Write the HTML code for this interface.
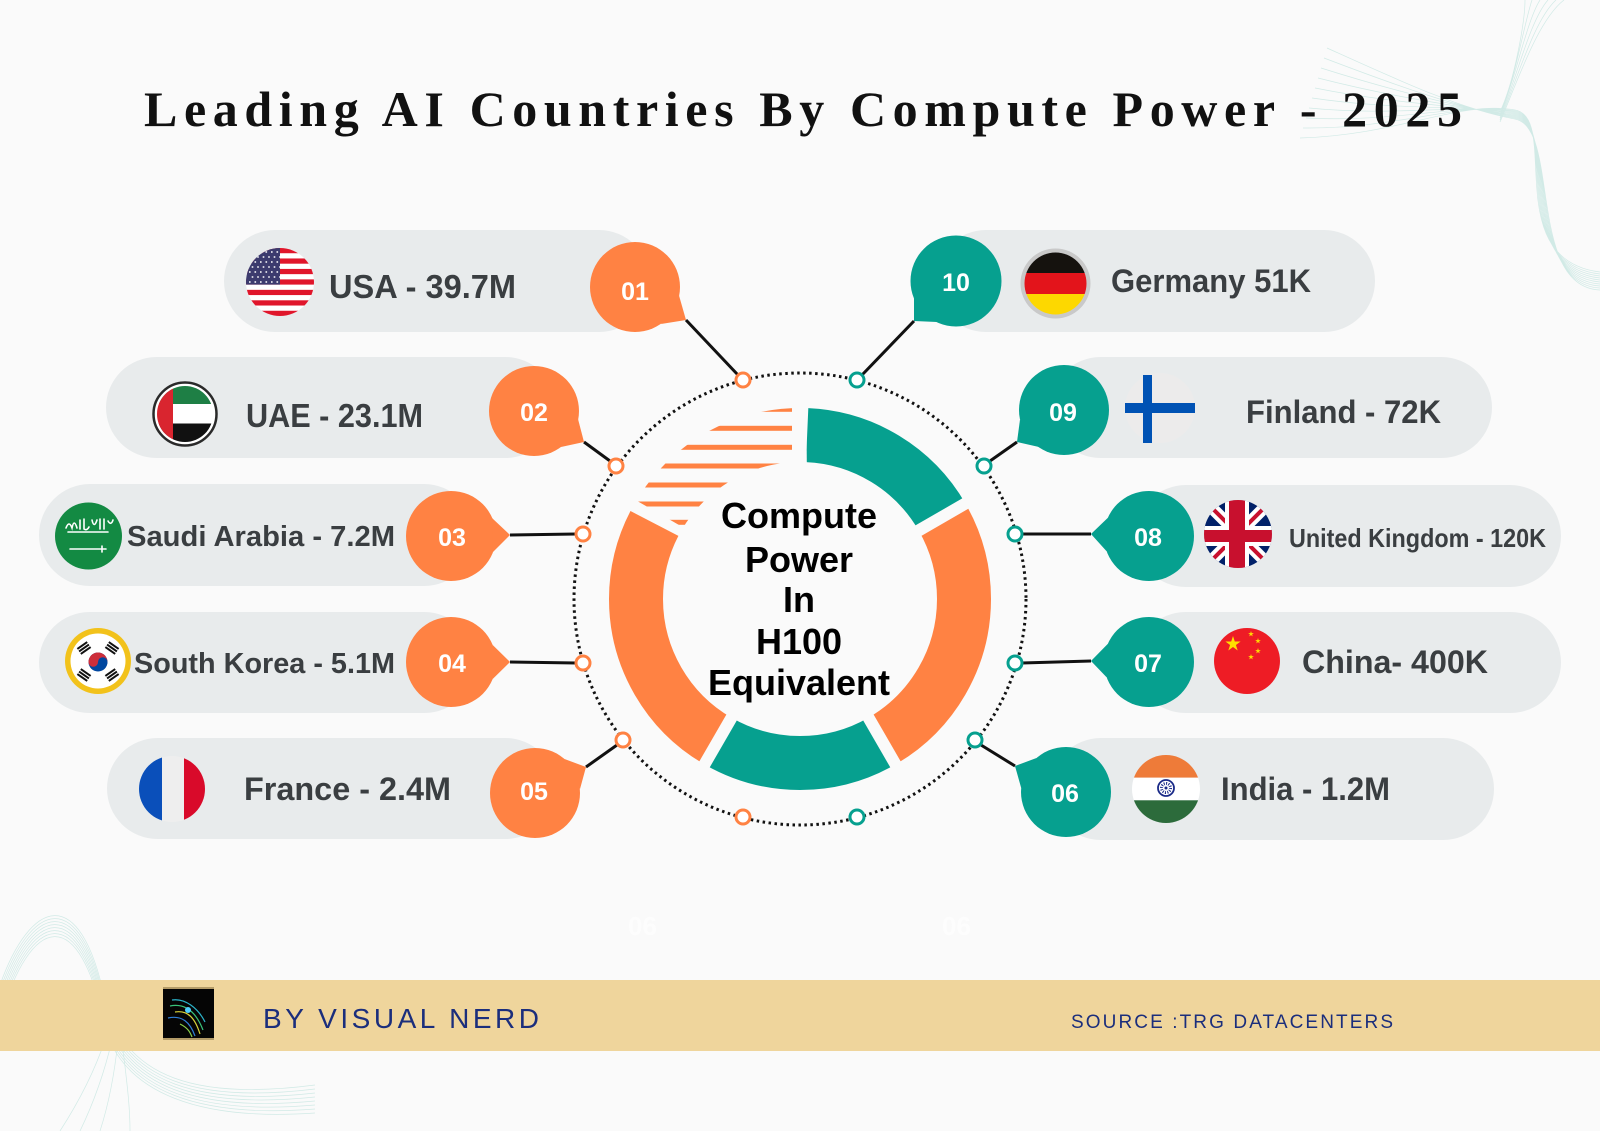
<!DOCTYPE html>
<html>
<head>
<meta charset="utf-8">
<style>
html,body{margin:0;padding:0;background:#fafafa;}
svg{display:block;}
text{font-family:"Liberation Sans",Arial,sans-serif;}
</style>
</head>
<body>
<svg width="1600" height="1131" viewBox="0 0 1600 1131" xmlns="http://www.w3.org/2000/svg">
<defs>
  <clipPath id="cUSA"><circle cx="280" cy="282" r="34"/></clipPath>
  <clipPath id="cUAE"><circle cx="185" cy="414" r="28"/></clipPath>
  <clipPath id="cFR"><circle cx="172" cy="789" r="33"/></clipPath>
  <clipPath id="cDE"><circle cx="1055.5" cy="283.5" r="31"/></clipPath>
  <clipPath id="cUK"><circle cx="1238" cy="534" r="34"/></clipPath>
  <clipPath id="cIN"><circle cx="1166" cy="789" r="34"/></clipPath>
  <clipPath id="cAnn"><path clip-rule="evenodd" fill-rule="evenodd" d="M609,599 A191,191 0 1,1 991,599 A191,191 0 1,1 609,599 Z M663,599 A137,137 0 1,0 937,599 A137,137 0 1,0 663,599 Z"/></clipPath>
  <clipPath id="cStripe"><polygon points="560,370 792,370 792,590 560,456.6"/></clipPath>
  <path id="star" d="M0,-1 L0.2245,-0.309 L0.951,-0.309 L0.363,0.118 L0.588,0.809 L0,0.382 L-0.588,0.809 L-0.363,0.118 L-0.951,-0.309 L-0.2245,-0.309Z"/>
</defs>

<rect width="1600" height="1131" fill="#fafafa"/>

<!-- decorative waves -->
<g fill="none" stroke="#9fd8cf" stroke-width="0.7" opacity="0.45">
  <path d="M1300,138 C1400,135 1460,100 1515,110 C1560,118 1500,260 1600,272
           M1303,128 C1400,129 1460,101 1515,111 C1560,119 1503,263 1600,274
           M1306,118 C1400,123 1460,102 1515,112 C1560,120 1506,266 1600,276
           M1309,108 C1400,117 1460,103 1515,113 C1560,121 1509,269 1600,278
           M1312,98 C1400,111 1460,104 1515,114 C1560,122 1512,272 1600,280
           M1315,88 C1400,105 1460,105 1515,115 C1560,123 1515,275 1600,282
           M1318,78 C1400,99 1460,106 1515,116 C1560,124 1518,278 1600,284
           M1321,68 C1400,93 1460,107 1515,117 C1560,125 1521,281 1600,286
           M1324,58 C1400,87 1460,108 1515,118 C1560,126 1524,284 1600,288
           M1327,48 C1400,81 1460,109 1515,119 C1560,127 1527,287 1600,290
           M1500,112 C1515,80 1525,20 1525,0
           M1500,114 C1515,80 1525,20 1532,0
           M1500,116 C1515,80 1527,20 1540,0
           M1500,118 C1516,80 1530,20 1548,0
           M1500,120 C1517,80 1534,20 1556,0
           M1500,122 C1518,80 1538,20 1564,0"/>
  <path d="M0,985 C30,900 80,880 105,1000 C125,1080 200,1100 315,1085
           M0,990 C30,902 80,883 105,1004 C125,1082 200,1103 315,1089
           M0,995 C30,904 80,886 105,1008 C125,1084 200,1106 315,1093
           M0,1000 C30,906 80,889 105,1012 C125,1086 200,1109 315,1097
           M0,1005 C30,908 80,892 105,1016 C125,1088 200,1112 315,1101
           M0,1010 C30,910 80,895 105,1020 C125,1090 200,1115 315,1105
           M0,1015 C30,912 80,898 105,1024 C125,1092 200,1118 315,1109
           M0,1020 C30,914 80,901 105,1028 C125,1094 200,1121 315,1113
           M60,1131 C80,1100 95,1070 105,1040
           M80,1131 C95,1100 105,1070 112,1040
           M100,1131 C110,1100 115,1070 118,1040
           M130,1131 C130,1100 125,1070 122,1040"/>
</g>

<!-- Title -->
<text x="144" y="126" font-weight="bold" font-size="50" fill="#111" textLength="1318" lengthAdjust="spacing" style="font-family:'Liberation Serif',serif">Leading AI Countries By Compute Power - 2025</text>

<!-- Pills -->
<g fill="#e8ebec">
  <rect x="224" y="230" width="426" height="102" rx="51"/>
  <rect x="106" y="357" width="450" height="101" rx="50.5"/>
  <rect x="39" y="484" width="436" height="102" rx="51"/>
  <rect x="39" y="612" width="436" height="101" rx="50.5"/>
  <rect x="107" y="738" width="449" height="101" rx="50.5"/>
  <rect x="935" y="230" width="440" height="102" rx="51"/>
  <rect x="1050" y="357" width="442" height="101" rx="50.5"/>
  <rect x="1135" y="485" width="426" height="102" rx="51"/>
  <rect x="1135" y="612" width="426" height="101" rx="50.5"/>
  <rect x="1050" y="738" width="444" height="102" rx="51"/>
</g>

<!-- Dotted ring -->
<circle cx="800" cy="599" r="226" fill="none" stroke="#111" stroke-width="3" stroke-dasharray="2.5 3.5"/>

<!-- Connector lines -->
<g stroke="#111" stroke-width="3" fill="none">
  <line x1="686" y1="320" x2="738" y2="375"/>
  <line x1="584" y1="442" x2="610" y2="461"/>
  <line x1="510" y1="535" x2="576" y2="534"/>
  <line x1="510" y1="662" x2="576" y2="663"/>
  <line x1="586" y1="767" x2="617" y2="745"/>
  <line x1="914" y1="321" x2="862" y2="375"/>
  <line x1="1017" y1="442" x2="990" y2="461"/>
  <line x1="1091" y1="534" x2="1022" y2="534"/>
  <line x1="1091" y1="661" x2="1022" y2="663"/>
  <line x1="1015" y1="766" x2="981" y2="745"/>
</g>

<!-- Ring small circles -->
<g fill="#fff" stroke-width="3">
  <g stroke="#ff8243">
    <circle cx="743" cy="380" r="7"/>
    <circle cx="616" cy="466" r="7"/>
    <circle cx="583" cy="534" r="7"/>
    <circle cx="583" cy="663" r="7"/>
    <circle cx="623" cy="740" r="7"/>
    <circle cx="743" cy="817" r="7"/>
  </g>
  <g stroke="#06a08f">
    <circle cx="857" cy="380" r="7"/>
    <circle cx="984" cy="466" r="7"/>
    <circle cx="1015" cy="534" r="7"/>
    <circle cx="1015" cy="663" r="7"/>
    <circle cx="975" cy="740" r="7"/>
    <circle cx="857" cy="817" r="7"/>
  </g>
</g>

<!-- Donut segments -->
<g transform="rotate(-90 800 599)" fill="none" stroke-width="54">
  <circle cx="800" cy="599" r="164" stroke="#06a08f" stroke-dasharray="164.6 865.84" stroke-dashoffset="-7.2"/>
  <circle cx="800" cy="599" r="164" stroke="#ff8243" stroke-dasharray="257.6 772.84" stroke-dashoffset="-171.7"/>
  <circle cx="800" cy="599" r="164" stroke="#06a08f" stroke-dasharray="171.7 858.74" stroke-dashoffset="-429.3"/>
  <circle cx="800" cy="599" r="164" stroke="#ff8243" stroke-dasharray="250 780.44" stroke-dashoffset="-601"/>
</g>
<g fill="#fafafa">
  <rect x="-6" y="-200" width="12" height="70" transform="translate(800,599) rotate(60)"/>
  <rect x="-6" y="-200" width="12" height="70" transform="translate(800,599) rotate(150)"/>
  <rect x="-6" y="-200" width="12" height="70" transform="translate(800,599) rotate(210)"/>
  <rect x="-2" y="-200" width="10" height="70" transform="translate(800,599) rotate(-0.5)"/>
</g>
<!-- Striped segment -->
<g clip-path="url(#cAnn)">
  <g clip-path="url(#cStripe)" fill="#ff8243">
    <rect x="600" y="406.8" width="200" height="5"/>
    <rect x="600" y="425.8" width="200" height="5"/>
    <rect x="600" y="444.8" width="200" height="5"/>
    <rect x="600" y="463.5" width="200" height="5"/>
    <rect x="600" y="482.5" width="200" height="5"/>
    <rect x="600" y="501.5" width="200" height="5"/>
    <rect x="600" y="519.8" width="200" height="5"/>
  </g>
</g>

<!-- Center text -->
<g font-weight="bold" font-size="36" fill="#000" text-anchor="middle">
  <text x="799" y="528">Compute</text>
  <text x="799" y="572">Power</text>
  <text x="799" y="612">In</text>
  <text x="799" y="654">H100</text>
  <text x="799" y="695">Equivalent</text>
</g>

<!-- Bubbles -->
<g fill="#ff8243">
  <circle cx="635" cy="287" r="45"/><polygon points="679,295.5 686,320 661,324"/>
  <circle cx="534" cy="411" r="45"/><polygon points="578,419 584,442 561,447"/>
  <circle cx="451" cy="536" r="45"/><polygon points="492,518 510,535 493,552"/>
  <circle cx="451" cy="662" r="45"/><polygon points="492.7,645 510,662 492.7,679"/>
  <circle cx="535" cy="793" r="45"/><polygon points="564.5,759 586,767 580,789"/>
</g>
<g fill="#06a08f">
  <circle cx="956" cy="281" r="45.5"/><polygon points="937,322 914,321 914,298"/>
  <circle cx="1064" cy="410" r="45"/><polygon points="1039,447 1017,442 1020,419.6"/>
  <circle cx="1149" cy="536" r="45"/><polygon points="1106.7,551.4 1091,534 1107.9,517.7"/>
  <circle cx="1149" cy="662" r="45"/><polygon points="1106.7,677.4 1091,661 1107.9,643.7"/>
  <circle cx="1066" cy="792" r="45"/><polygon points="1021.2,788 1015,766 1036.5,758"/>
</g>
<g fill="#fff" font-weight="bold" font-size="25" text-anchor="middle">
  <text x="635" y="300">01</text>
  <text x="534" y="421">02</text>
  <text x="452" y="546">03</text>
  <text x="452" y="672">04</text>
  <text x="534" y="800">05</text>
  <text x="956" y="291">10</text>
  <text x="1063" y="421">09</text>
  <text x="1148" y="546">08</text>
  <text x="1148" y="672">07</text>
  <text x="1065" y="802">06</text>
</g>

<!-- Pill texts -->
<g font-weight="bold" fill="#3a3e41">
  <text x="329" y="298" font-size="33" textLength="187" lengthAdjust="spacingAndGlyphs">USA - 39.7M</text>
  <text x="246" y="427" font-size="33" textLength="177" lengthAdjust="spacingAndGlyphs">UAE - 23.1M</text>
  <text x="127" y="546" font-size="29" textLength="268" lengthAdjust="spacingAndGlyphs">Saudi Arabia - 7.2M</text>
  <text x="134" y="673" font-size="29" textLength="261" lengthAdjust="spacingAndGlyphs">South Korea - 5.1M</text>
  <text x="244" y="800" font-size="32" textLength="207" lengthAdjust="spacingAndGlyphs">France - 2.4M</text>
  <text x="1111" y="292" font-size="32" textLength="200" lengthAdjust="spacingAndGlyphs">Germany 51K</text>
  <text x="1246" y="423" font-size="32" textLength="195" lengthAdjust="spacingAndGlyphs">Finland - 72K</text>
  <text x="1289" y="547" font-size="26" textLength="257" lengthAdjust="spacingAndGlyphs">United Kingdom - 120K</text>
  <text x="1302" y="673" font-size="32" textLength="186" lengthAdjust="spacingAndGlyphs">China- 400K</text>
  <text x="1221" y="800" font-size="32" textLength="169" lengthAdjust="spacingAndGlyphs">India - 1.2M</text>
</g>

<!-- Flags -->
<g clip-path="url(#cUSA)">
  <rect x="246" y="248" width="68" height="68" fill="#fff"/>
  <g fill="#e0162b">
    <rect x="246" y="248" width="68" height="5.23"/>
    <rect x="246" y="258.46" width="68" height="5.23"/>
    <rect x="246" y="268.92" width="68" height="5.23"/>
    <rect x="246" y="279.38" width="68" height="5.23"/>
    <rect x="246" y="289.84" width="68" height="5.23"/>
    <rect x="246" y="300.3" width="68" height="5.23"/>
    <rect x="246" y="310.76" width="68" height="5.23"/>
  </g>
  <rect x="246" y="248" width="34" height="36.6" fill="#3c3b6e"/>
  <g stroke="#fff" stroke-width="1.6" stroke-dasharray="1.6 3.9">
    <line x1="249" y1="252" x2="280" y2="252"/>
    <line x1="251.7" y1="257" x2="280" y2="257"/>
    <line x1="249" y1="262" x2="280" y2="262"/>
    <line x1="251.7" y1="267" x2="280" y2="267"/>
    <line x1="249" y1="272" x2="280" y2="272"/>
    <line x1="251.7" y1="277" x2="280" y2="277"/>
    <line x1="249" y1="282" x2="280" y2="282"/>
  </g>
</g>
<circle cx="185" cy="414" r="31.5" fill="#fff" stroke="#2a2a2a" stroke-width="2.5"/>
<g clip-path="url(#cUAE)">
  <rect x="155" y="384" width="60" height="20" fill="#1e7f45"/>
  <rect x="155" y="404" width="60" height="19.5" fill="#fff"/>
  <rect x="155" y="423.5" width="60" height="20" fill="#111"/>
  <rect x="155" y="384" width="18" height="60" fill="#d9252f"/>
</g>
<circle cx="88.5" cy="536" r="33.5" fill="#138a43"/>
<g stroke="#fff" stroke-width="1.6" fill="none" stroke-linecap="round">
  <path d="M66,528 q3,-8 6,0 q2,-10 5,0 M80,520 v9 M84,519 v10 q3,2 5,-2 M92,520 q2,9 5,0 M100,519 v10 M104,519 v10 M108,521 q3,5 5,-1"/>
  <path d="M68,532 h40"/>
  <path d="M70,549 h36 M102,546 v6"/>
</g>
<circle cx="98" cy="661" r="33" fill="#f2c21b"/>
<circle cx="98" cy="661" r="27.5" fill="#fff"/>
<circle cx="98" cy="662" r="9.5" fill="#0047a0"/>
<path d="M88.5,662 A9.5,9.5 0 0 1 107.5,662 Z" fill="#cd2e3a"/>
<circle cx="93.25" cy="662" r="4.75" fill="#cd2e3a"/>
<circle cx="102.75" cy="662" r="4.75" fill="#0047a0"/>
<g stroke="#111" stroke-width="2">
  <g transform="rotate(-35 84 648)"><line x1="78" y1="645" x2="90" y2="645"/><line x1="78" y1="648" x2="90" y2="648"/><line x1="78" y1="651" x2="90" y2="651"/></g>
  <g transform="rotate(35 112 648)"><line x1="106" y1="645" x2="118" y2="645"/><line x1="106" y1="648" x2="118" y2="648"/><line x1="106" y1="651" x2="118" y2="651"/></g>
  <g transform="rotate(35 84 675)"><line x1="78" y1="672" x2="90" y2="672"/><line x1="78" y1="675" x2="90" y2="675"/><line x1="78" y1="678" x2="90" y2="678"/></g>
  <g transform="rotate(-35 112 675)"><line x1="106" y1="672" x2="118" y2="672"/><line x1="106" y1="675" x2="118" y2="675"/><line x1="106" y1="678" x2="118" y2="678"/></g>
</g>
<g clip-path="url(#cFR)">
  <rect x="139" y="756" width="23" height="66" fill="#0a4fba"/>
  <rect x="162" y="756" width="22" height="66" fill="#eeeeee"/>
  <rect x="184" y="756" width="22" height="66" fill="#d90a2a"/>
</g>
<circle cx="1055.5" cy="283.5" r="35" fill="#c9c9c9"/>
<g clip-path="url(#cDE)">
  <rect x="1024" y="252" width="64" height="21" fill="#15120e"/>
  <rect x="1024" y="273" width="64" height="21" fill="#e3141b"/>
  <rect x="1024" y="294" width="64" height="22" fill="#fdd800"/>
</g>
<circle cx="1160" cy="408" r="35" fill="#ecebeb"/>
<rect x="1143" y="375" width="9" height="68" fill="#0052b4"/>
<rect x="1125" y="403" width="70" height="10" fill="#0052b4"/>
<g clip-path="url(#cUK)">
  <rect x="1204" y="500" width="68" height="68" fill="#012169"/>
  <path d="M1204,500 L1272,568 M1272,500 L1204,568" stroke="#fff" stroke-width="12"/>
  <path d="M1204,500 L1272,568 M1272,500 L1204,568" stroke="#c8102e" stroke-width="4"/>
  <rect x="1225" y="500" width="24" height="68" fill="#fff"/>
  <rect x="1204" y="526" width="68" height="20" fill="#fff"/>
  <rect x="1229" y="500" width="16" height="68" fill="#c8102e"/>
  <rect x="1204" y="530" width="68" height="12" fill="#c8102e"/>
</g>
<circle cx="1247" cy="661" r="33" fill="#ee1c25"/>
<g fill="#ffde00">
  <use href="#star" transform="translate(1233,644) scale(8)"/>
  <use href="#star" transform="translate(1251,634) scale(3)"/>
  <use href="#star" transform="translate(1258,641) scale(3)"/>
  <use href="#star" transform="translate(1258,651) scale(3)"/>
  <use href="#star" transform="translate(1251,657) scale(3)"/>
</g>
<g clip-path="url(#cIN)">
  <rect x="1132" y="755" width="68" height="22.7" fill="#ee7b39"/>
  <rect x="1132" y="777.7" width="68" height="22.6" fill="#ffffff"/>
  <rect x="1132" y="800.3" width="68" height="23" fill="#2c6b3b"/>
</g>
<circle cx="1166" cy="788" r="8" fill="none" stroke="#1a2a88" stroke-width="1.8"/>
<circle cx="1166" cy="788" r="4.5" fill="none" stroke="#1a2a88" stroke-width="3" stroke-dasharray="1 1.35"/>
<circle cx="1166" cy="788" r="1.5" fill="#1a2a88"/>

<!-- faint ghost labels -->
<g fill="#ffffff" font-size="26" font-weight="bold" opacity="0.6">
  <text x="628" y="935">06</text>
  <text x="942" y="935">06</text>
</g>

<!-- Footer -->
<rect x="0" y="980" width="1600" height="71" fill="#efd59c"/>
<rect x="163" y="987" width="51" height="53" fill="#b49c68"/>
<rect x="163" y="989" width="51" height="49" fill="#050505"/>
<g fill="none" stroke-width="1.2">
  <path d="M172,1000 C185,998 198,1008 205,1022" stroke="#2bb3c9"/>
  <path d="M170,1006 C185,1003 196,1012 203,1030" stroke="#39c27a"/>
  <path d="M175,1012 C188,1010 195,1018 200,1034" stroke="#d7d23a"/>
  <path d="M168,1018 C182,1015 190,1022 195,1036" stroke="#2f7fd8"/>
  <path d="M180,1024 C188,1028 190,1032 192,1037" stroke="#8ad14a"/>
</g>
<circle cx="188" cy="1010" r="3" fill="#4fd0ff"/>
<text x="263" y="1028" font-size="28" fill="#1b2e7c" textLength="276" lengthAdjust="spacing">BY VISUAL NERD</text>
<text x="1071" y="1028" font-size="19" fill="#1b2e7c" textLength="322" lengthAdjust="spacing">SOURCE :TRG DATACENTERS</text>
</svg>
</body>
</html>
